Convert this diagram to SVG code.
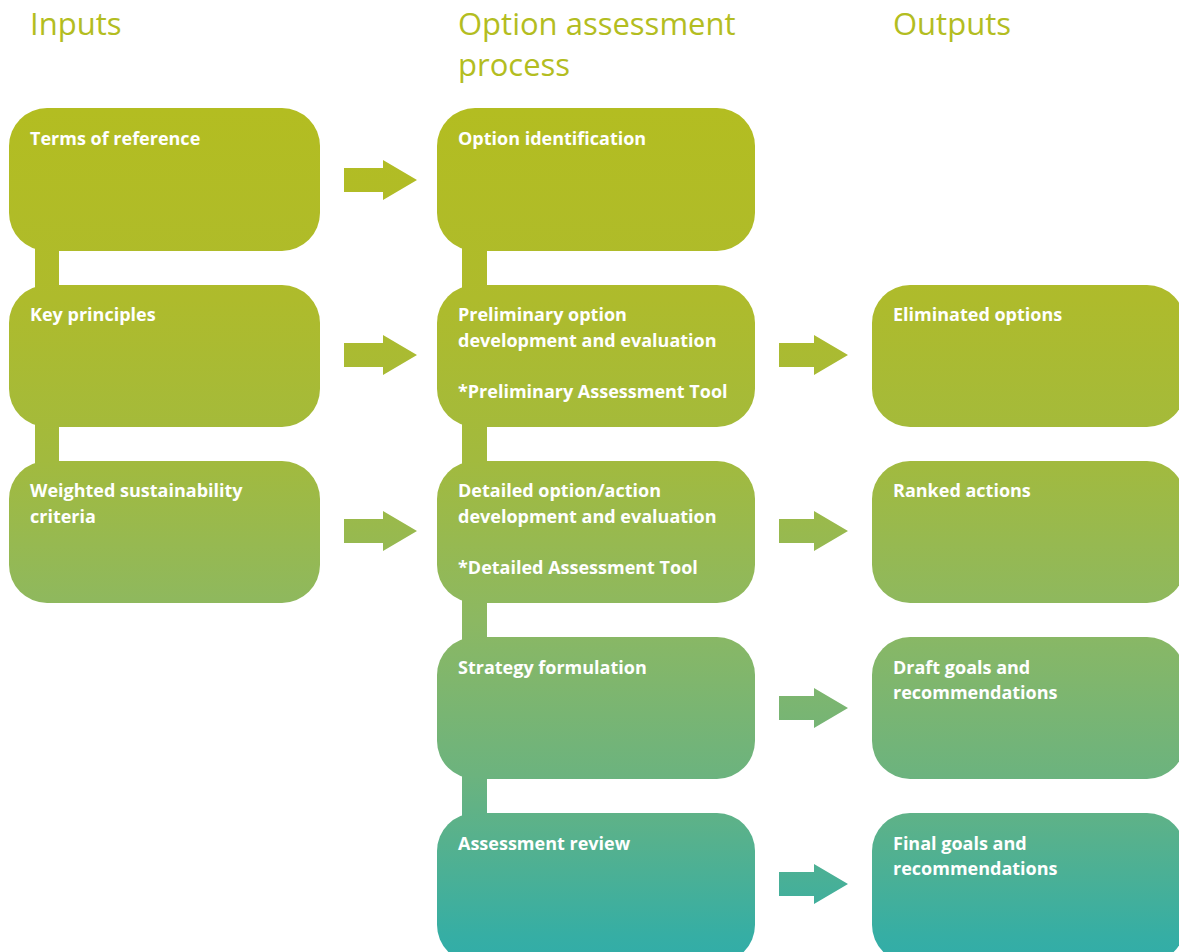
<svg xmlns="http://www.w3.org/2000/svg" width="1179" height="952" viewBox="0 0 1179 952">
<defs>
<linearGradient id="g" gradientUnits="userSpaceOnUse" x1="0" y1="108" x2="0" y2="952">
<stop offset="0" stop-color="#b3bd21"/>
<stop offset="0.227" stop-color="#aebb2c"/>
<stop offset="0.417" stop-color="#a2ba3e"/>
<stop offset="0.607" stop-color="#8cb862"/>
<stop offset="0.79" stop-color="#6cb37e"/>
<stop offset="0.98" stop-color="#36aea4"/>
<stop offset="1" stop-color="#33ada7"/>
</linearGradient>
</defs>
<style>
.box{fill:url(#g)}
.bar{fill:url(#g)}
.arr{fill:url(#g)}
.h{font-family:"Open Sans","Liberation Sans",sans-serif;font-size:31px;fill:#b3bd21}
.t{font-family:"Open Sans","Liberation Sans",sans-serif;font-size:18px;font-weight:700;fill:#ffffff}
</style>
<rect width="1179" height="952" fill="#ffffff"/>
<g id="headers">
<text class="h" x="30" y="35">Inputs</text>
<text class="h" x="458" y="35">Option assessment</text>
<text class="h" x="458" y="76">process</text>
<text class="h" x="893" y="35">Outputs</text>
</g>
<g id="connectors">
<rect class="bar" x="35" y="245" width="24" height="46"/>
<rect class="bar" x="35" y="421" width="24" height="46"/>
<rect class="bar" x="462" y="245" width="25" height="46"/>
<rect class="bar" x="462" y="421" width="25" height="46"/>
<rect class="bar" x="462" y="597" width="25" height="46"/>
<rect class="bar" x="462" y="773" width="25" height="46"/>
<path class="arr" d="M344,168 H383 V160 L417,180 L383,200 V192 H344 Z"/>
<path class="arr" d="M344,343 H383 V335 L417,355 L383,375 V367 H344 Z"/>
<path class="arr" d="M344,519 H383 V511 L417,531 L383,551 V543 H344 Z"/>
<path class="arr" d="M779,343 H814 V335 L848,355 L814,375 V367 H779 Z"/>
<path class="arr" d="M779,519 H814 V511 L848,531 L814,551 V543 H779 Z"/>
<path class="arr" d="M779,696 H814 V688 L848,708 L814,728 V720 H779 Z"/>
<path class="arr" d="M779,872 H814 V864 L848,884 L814,904 V896 H779 Z"/>
</g>
<g id="n-terms"><rect class="box" x="9" y="108" width="311" height="143" rx="38"/><text class="t" x="30" y="145">Terms of reference</text></g>
<g id="n-key"><rect class="box" x="9" y="285" width="311" height="142" rx="38"/><text class="t" x="30" y="321">Key principles</text></g>
<g id="n-weighted"><rect class="box" x="9" y="461" width="311" height="142" rx="38"/><text class="t" x="30" y="497">Weighted sustainability</text><text class="t" x="30" y="523">criteria</text></g>
<g id="n-optid"><rect class="box" x="437" y="108" width="318" height="143" rx="38"/><text class="t" x="458" y="145">Option identification</text></g>
<g id="n-prelim"><rect class="box" x="437" y="285" width="318" height="142" rx="38"/><text class="t" x="458" y="321">Preliminary option</text><text class="t" x="458" y="347">development and evaluation</text><text class="t" x="458" y="398">*Preliminary Assessment Tool</text></g>
<g id="n-detailed"><rect class="box" x="437" y="461" width="318" height="142" rx="38"/><text class="t" x="458" y="497">Detailed option/action</text><text class="t" x="458" y="523">development and evaluation</text><text class="t" x="458" y="574">*Detailed Assessment Tool</text></g>
<g id="n-strategy"><rect class="box" x="437" y="637" width="318" height="142" rx="38"/><text class="t" x="458" y="674">Strategy formulation</text></g>
<g id="n-review"><rect class="box" x="437" y="813" width="318" height="150" rx="38"/><text class="t" x="458" y="850">Assessment review</text></g>
<g id="n-elim"><rect class="box" x="872" y="285" width="313" height="142" rx="38"/><text class="t" x="893" y="321">Eliminated options</text></g>
<g id="n-ranked"><rect class="box" x="872" y="461" width="313" height="142" rx="38"/><text class="t" x="893" y="497">Ranked actions</text></g>
<g id="n-draft"><rect class="box" x="872" y="637" width="313" height="142" rx="38"/><text class="t" x="893" y="674">Draft goals and</text><text class="t" x="893" y="699">recommendations</text></g>
<g id="n-final"><rect class="box" x="872" y="813" width="313" height="150" rx="38"/><text class="t" x="893" y="850">Final goals and</text><text class="t" x="893" y="875">recommendations</text></g>
</svg>
